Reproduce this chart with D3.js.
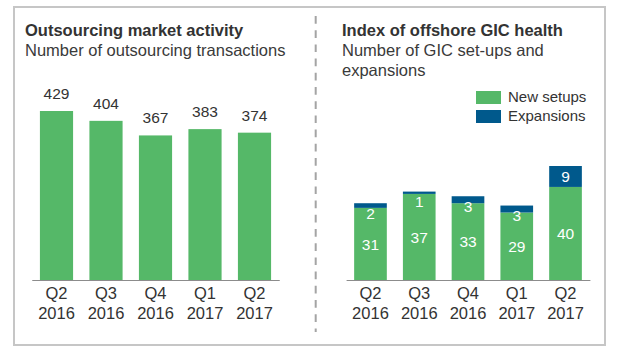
<!DOCTYPE html>
<html><head><meta charset="utf-8">
<script src="https://cdn.jsdelivr.net/npm/d3@7"></script>
<style>
body{margin:0;background:#fff;}
svg{display:block;font-family:"Liberation Sans",Arial,sans-serif;}
</style></head>
<body>
<svg id="chart" width="624" height="356"></svg>
<script>
const quarters = ["Q2", "Q3", "Q4", "Q1", "Q2"];
const years = ["2016", "2016", "2016", "2017", "2017"];
const transactions = [429, 404, 367, 383, 374];
const newSetups = [31, 37, 33, 29, 40];
const expansions = [2, 1, 3, 3, 9];
const seriesNames = ["New setups", "Expansions"];

const GREEN = "#55b868", BLUE = "#00598c", TXT = "#333", AXIS = "#8c8c8c";
const svg = d3.select("#chart");
const cats = quarters.map((q, i) => i);

// frame
svg.append("rect").attr("x", 14).attr("y", 7).attr("width", 591).attr("height", 338)
  .attr("fill", "none").attr("stroke", "#c6c6c6").attr("stroke-width", 2);
svg.append("line").attr("x1", 315.7).attr("x2", 315.7).attr("y1", 16).attr("y2", 332)
  .attr("stroke", "#a4a4a4").attr("stroke-width", 2).attr("stroke-dasharray", "7.7,6.5");

function titles(x, title, subLines) {
  svg.append("text").attr("x", x).attr("y", 36).attr("font-size", 16.5)
    .attr("font-weight", "bold").attr("fill", TXT).text(title);
  subLines.forEach((s, i) => svg.append("text").attr("x", x).attr("y", 56 + i * 20)
    .attr("font-size", 16.5).attr("fill", "#3a3a3a").text(s));
}
titles(25, "Outsourcing market activity", ["Number of outsourcing transactions"]);
titles(342, "Index of offshore GIC health", ["Number of GIC set-ups and", "expansions"]);

const baseY = 280;
function xAxis(x) {
  const g = svg.append("g").attr("transform", `translate(0,${baseY})`)
    .call(d3.axisBottom(x).tickSize(0).tickSizeOuter(0).tickFormat(""));
  g.select(".domain").attr("stroke", AXIS).attr("stroke-width", 1.2);
  g.selectAll(".tick text").remove();
  g.selectAll(".tick").each(function(d) {
    const t = d3.select(this).append("text").attr("text-anchor", "middle")
      .attr("fill", TXT).attr("font-size", 16.5);
    t.append("tspan").attr("x", 0).attr("y", 19).text(quarters[d]);
    t.append("tspan").attr("x", 0).attr("y", 39).text(years[d]);
  });
}

// Left chart
const xL = d3.scaleBand().domain(cats).range([31.75, 279.25]).paddingInner(0.33).paddingOuter(0.165);
const yL = d3.scaleLinear().domain([0, d3.max(transactions)]).range([baseY, 111]);
svg.append("g").selectAll("rect").data(transactions).join("rect")
  .attr("x", (d, i) => xL(i)).attr("width", xL.bandwidth())
  .attr("y", d => yL(d)).attr("height", d => baseY - yL(d)).attr("fill", GREEN);
svg.append("g").selectAll("text").data(transactions).join("text")
  .attr("x", (d, i) => xL(i) + xL.bandwidth() / 2).attr("y", d => yL(d) - 12)
  .attr("text-anchor", "middle").attr("font-size", 15.5).attr("fill", TXT).text(d => d);
xAxis(xL);

// Right chart
const xR = d3.scaleBand().domain(cats).range([346.1, 589.9]).paddingInner(0.33).paddingOuter(0.165);
const stackData = cats.map(i => ({i, n: newSetups[i], e: expansions[i]}));
const stack = d3.stack().keys(["n", "e"])(stackData);
const yR = d3.scaleLinear().domain([0, d3.max(stackData, d => d.n + d.e)]).range([baseY, 166]);
const colors = [GREEN, BLUE];
stack.forEach((layer, k) => {
  svg.append("g").selectAll("rect").data(layer).join("rect")
    .attr("x", d => xR(d.data.i)).attr("width", xR.bandwidth())
    .attr("y", d => yR(d[1])).attr("height", d => yR(d[0]) - yR(d[1]))
    .attr("fill", colors[k]);
  svg.append("g").selectAll("text").data(layer).join("text")
    .attr("x", d => xR(d.data.i) + xR.bandwidth() / 2)
    .attr("y", d => Math.max((yR(d[0]) + yR(d[1])) / 2, yR(d[1]) + 10))
    .attr("dy", "0.36em").attr("text-anchor", "middle").attr("font-size", 15.5)
    .attr("fill", "#fff").text(d => d[1] - d[0]);
});
xAxis(xR);

// Legend
const leg = svg.append("g");
seriesNames.forEach((s, k) => {
  leg.append("rect").attr("x", 476).attr("y", 91 + k * 19).attr("width", 25).attr("height", 13)
    .attr("fill", colors[k]);
  leg.append("text").attr("x", 508).attr("y", 102 + k * 19).attr("font-size", 15)
    .attr("fill", TXT).text(s);
});
</script>
</body></html>
